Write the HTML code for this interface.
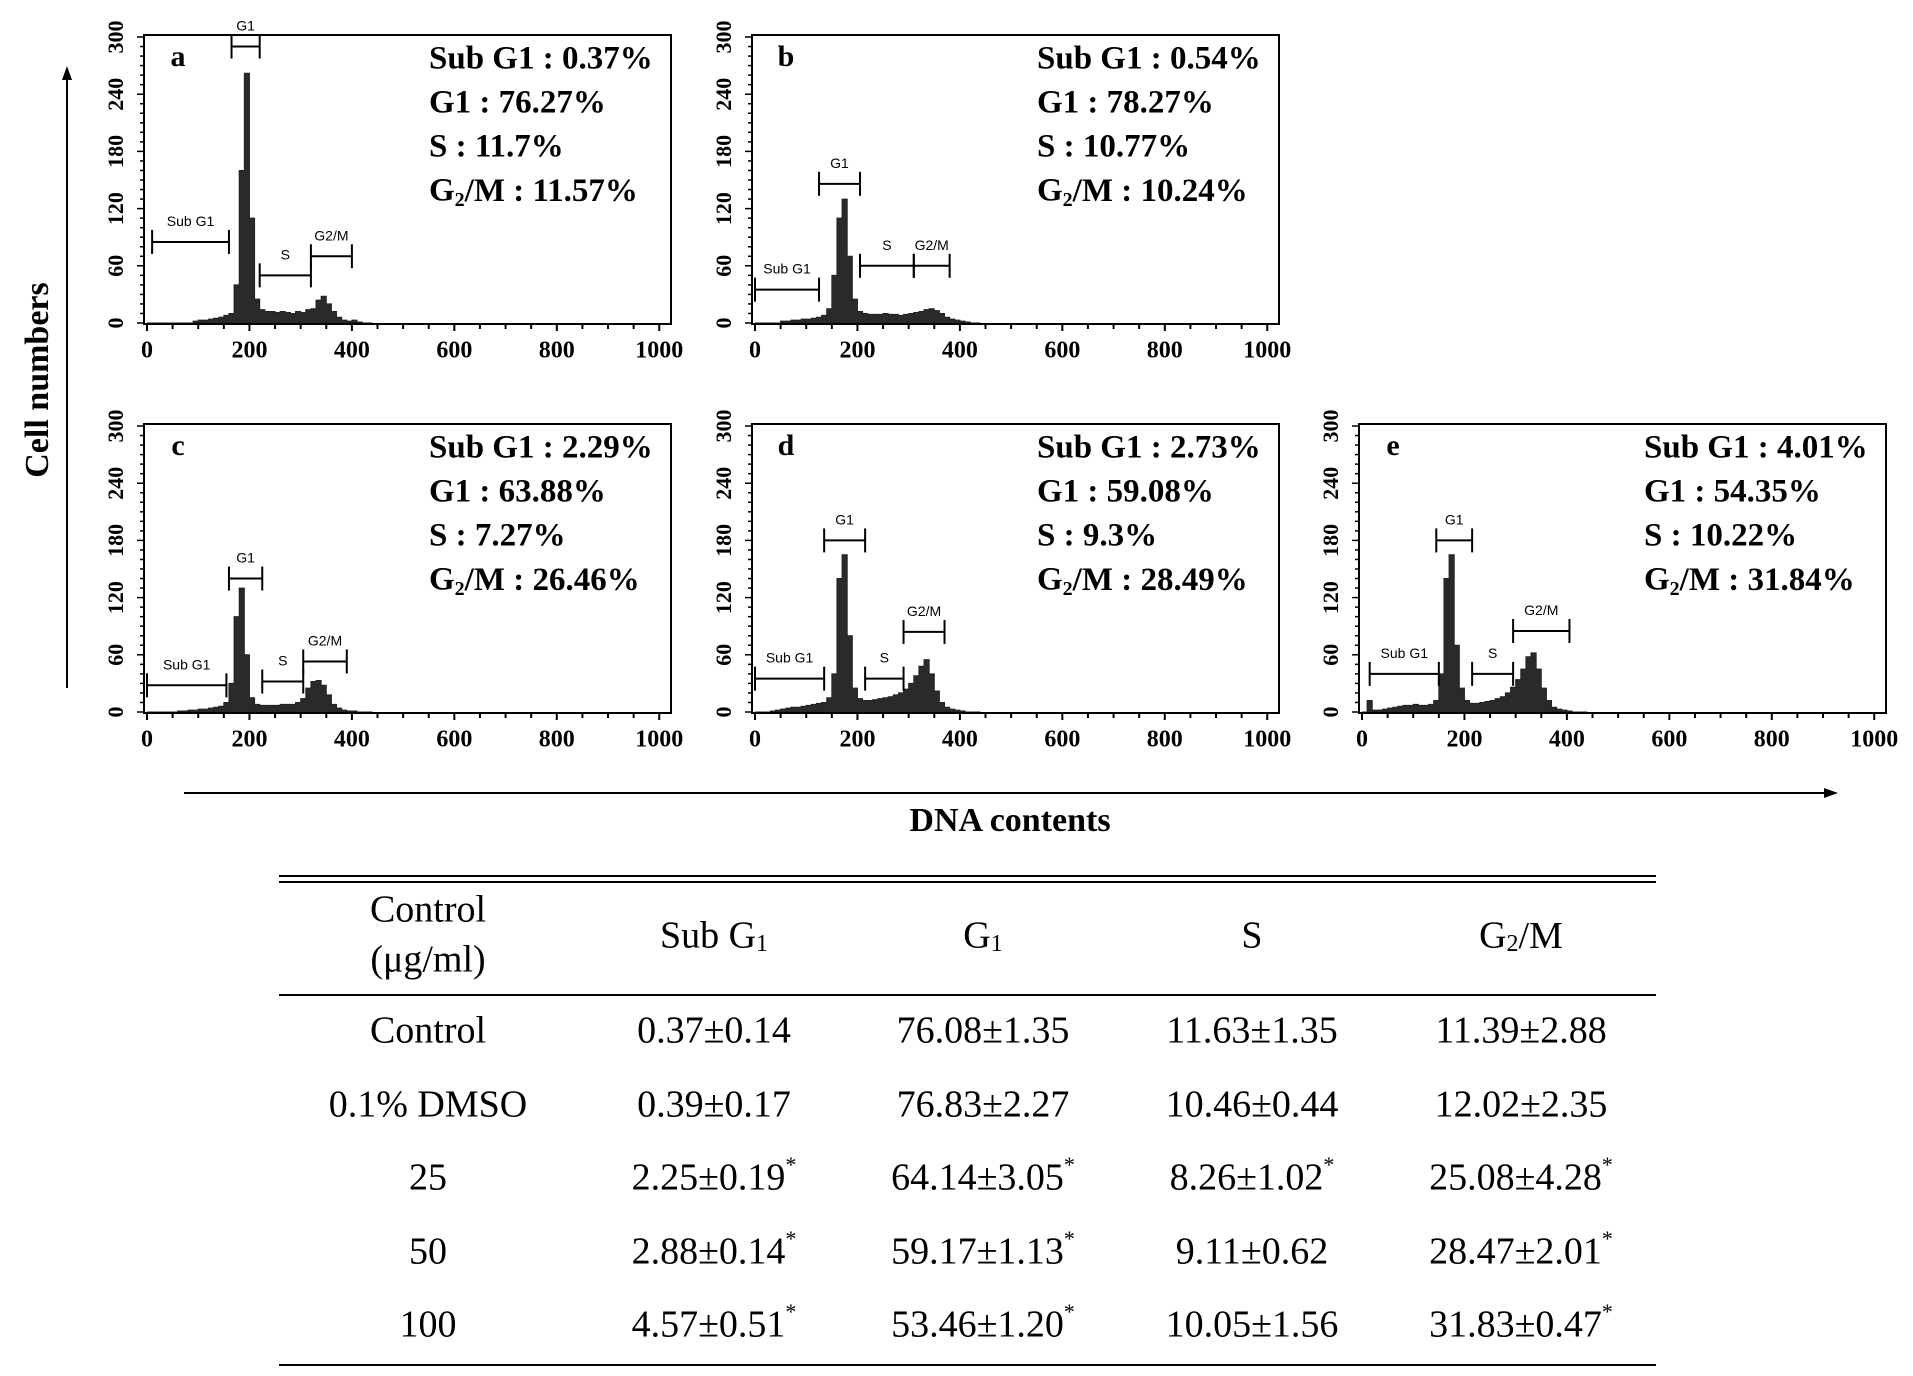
<!DOCTYPE html>
<html><head><meta charset="utf-8">
<style>
html,body{margin:0;padding:0;background:#fff;}
svg{display:block;font-family:"Liberation Serif",serif;}
</style></head>
<body>
<svg id="fig" width="1913" height="1376" viewBox="0 0 1913 1376">
  <g>
    <text x="40" y="380" transform="rotate(-90 40 380)" text-anchor="middle" dominant-baseline="middle" font-size="34" font-weight="bold">Cell numbers</text>
  </g>
  <line x1="67" y1="688" x2="67" y2="72" stroke="#000" stroke-width="2"/>
  <polygon points="67,66 62,80 72,80" fill="#000"/>
  <line x1="184" y1="793" x2="1828" y2="793" stroke="#000" stroke-width="2"/>
  <polygon points="1838,793 1824,788 1824,798" fill="#000"/>
  <text x="1010" y="823" text-anchor="middle" dominant-baseline="middle" font-size="34" font-weight="bold">DNA contents</text>
  <g id="panels"></g>
  <g id="table"></g>
</svg>
<script>
// ---- data ----
const binWidth = 10;
const histA = [0,0,0,0,0,0,0,0,0,2,3,3,4,5,6,8,10,40,160,262,110,25,14,12,12,11,12,11,10,12,11,14,15,24,28,20,12,6,3,2,3,1,0,0];
const histB = [0,0,0,0,0,2,2,3,3,4,4,5,6,8,15,50,110,130,70,25,12,10,9,9,9,10,9,9,8,9,10,11,12,14,15,13,10,6,4,3,2,1,0,0];
const histC = [0,0,0,0,0,0,1,1,2,2,3,3,4,5,6,10,30,100,130,60,15,8,7,7,7,7,8,8,8,10,14,25,32,33,28,18,8,4,2,1,1,0,0,0];
const histD = [0,0,0,1,2,3,4,5,5,6,7,8,9,10,15,40,140,165,80,25,14,12,12,13,14,15,16,18,20,24,30,38,48,55,40,22,10,5,3,2,1,0,0,0];
const histE = [0,12,2,2,3,4,5,6,7,7,8,7,7,8,12,40,140,165,70,25,12,9,9,10,11,12,14,16,20,26,34,45,58,62,45,25,12,5,3,2,1,0,0,0];
const panelLetters = ['a','b','c','d','e'];
const subG1 = ['0.37','0.54','2.29','2.73','4.01'];
const g1Pct = ['76.27','78.27','63.88','59.08','54.35'];
const sPct = ['11.7','10.77','7.27','9.3','10.22'];
const g2Pct = ['11.57','10.24','26.46','28.49','31.84'];
// gates: [x0,x1,y]
const gatesSub = [[10,160,85],[0,125,35],[0,155,28],[0,135,35],[15,150,40]];
const gatesG1 = [[165,220,290],[125,205,146],[160,225,140],[135,215,180],[145,215,180]];
const gatesS = [[220,320,50],[205,310,60],[225,305,32],[215,290,35],[215,295,40]];
const gatesG2 = [[320,400,70],[310,380,60],[305,390,53],[290,370,84],[295,405,85]];
const xTicks = [0,200,400,600,800,1000];
const yTicks = [0,60,120,180,240,300];
const rowLabels = ['Control','0.1%  DMSO','25','50','100'];
const colSub = ['0.37±0.14','0.39±0.17','2.25±0.19','2.88±0.14','4.57±0.51'];
const colG1 = ['76.08±1.35','76.83±2.27','64.14±3.05','59.17±1.13','53.46±1.20'];
const colS = ['11.63±1.35','10.46±0.44','8.26±1.02','9.11±0.62','10.05±1.56'];
const colG2 = ['11.39±2.88','12.02±2.35','25.08±4.28','28.47±2.01','31.83±0.47'];
const sigSub = [0,0,1,1,1], sigG1=[0,0,1,1,1], sigS=[0,0,1,0,0], sigG2=[0,0,1,1,1];

const hists = [histA,histB,histC,histD,histE];
const boxes = [[144,35],[752,35],[144,424],[752,424],[1359,424]];
const BW = 527, BH = 289;
const NS = 'http://www.w3.org/2000/svg';
function mk(tag, attrs, parent){const e=document.createElementNS(NS,tag);for(const k in attrs)e.setAttribute(k,attrs[k]);parent.appendChild(e);return e;}
const panels = document.getElementById('panels');

hists.forEach((h,i)=>{
  const [bx,by] = boxes[i];
  const xs = v => bx + 3 + v/1000*(BW*0.972);
  const ys = v => by + BH - 1 - v/300*(BH-3);
  const g = mk('g',{},panels);
  
  
  let d = 'M'+xs(0)+','+ys(0);
  h.forEach((v,k)=>{ d += ' L'+xs(k*binWidth)+','+ys(v)+' L'+xs((k+1)*binWidth)+','+ys(v); });
  d += ' L'+xs(h.length*binWidth)+','+ys(0)+' Z';
  const area = mk('path',{d:d,fill:'#2a2a2a',stroke:'#222','stroke-width':1},g);
  
  
  const box = mk('rect',{x:bx,y:by,width:BW,height:BH,fill:'none',stroke:'#000','stroke-width':2},g);
  
  
  for(let v=0; v<=1000; v+=50){
    mk('line',{x1:xs(v),y1:by+BH,x2:xs(v),y2:by+BH+(v%200==0?7:5),stroke:'#000','stroke-width':2},g);
  }
  xTicks.forEach(v=>{
    const t = mk('text',{x:xs(v),y:by+BH+28,'text-anchor':'middle','dominant-baseline':'middle','font-size':24,'font-weight':'bold'},g);
    t.textContent = v;
    
    
  });
  for(let v=0; v<=300; v+=10){
    mk('line',{x1:bx-(v%60==0?7:4),y1:ys(v),x2:bx,y2:ys(v),stroke:'#000','stroke-width':1.5},g);
  }
  yTicks.forEach(v=>{
    const x = bx-26, y = ys(v);
    const t = mk('text',{x:x,y:y,'text-anchor':'middle','dominant-baseline':'middle','font-size':22,'font-weight':'bold',transform:'rotate(-90 '+x+' '+y+')'},g);
    t.textContent = v;
    
    
  });
  const gates = [[gatesSub[i],'Sub G1'],[gatesG1[i],'G1'],[gatesS[i],'S'],[gatesG2[i],'G2/M']];
  gates.forEach(([gt,lab])=>{
    const x0=xs(gt[0]), x1=xs(gt[1]), y=ys(gt[2]);
    const gg = mk('g',{stroke:'#000','stroke-width':2},g);
    
    
    mk('line',{x1:x0,y1:y,x2:x1,y2:y},gg);
    mk('line',{x1:x0,y1:y-12,x2:x0,y2:y+12},gg);
    mk('line',{x1:x1,y1:y-12,x2:x1,y2:y+12},gg);
    const t = mk('text',{x:(x0+x1)/2,y:y-16,'text-anchor':'middle','font-size':14,'font-family':'Liberation Sans, sans-serif',stroke:'none',fill:'#000'},gg);
    t.textContent = lab;
  });
  const L = mk('text',{x:bx+34,y:by+24,'text-anchor':'middle','dominant-baseline':'middle','font-size':30,'font-weight':'bold'},g);
  L.textContent = panelLetters[i];
  
  
  const sx = bx+285;
  const lines = ['Sub G1 : '+subG1[i]+'%','G1 : '+g1Pct[i]+'%','S : '+sPct[i]+'%'];
  lines.forEach((ln,k)=>{
    const t = mk('text',{x:sx,y:by+26+k*44,'dominant-baseline':'middle','font-size':33,'font-weight':'bold'},g);
    t.textContent = ln;
    
    
  });
  const t4 = mk('text',{x:sx,y:by+158,'dominant-baseline':'middle','font-size':33,'font-weight':'bold'},g);
  t4.innerHTML = 'G<tspan font-size="20" dy="8">2</tspan><tspan dy="-8">/M : '+g2Pct[i]+'%</tspan>';
  
  
});

const tbl = document.getElementById('table');
const cx = [428,714,983,1252,1521];
mk('line',{x1:279,y1:876,x2:1656,y2:876,stroke:'#000','stroke-width':2},tbl);
mk('line',{x1:279,y1:882,x2:1656,y2:882,stroke:'#000','stroke-width':2},tbl);
mk('line',{x1:279,y1:995,x2:1656,y2:995,stroke:'#000','stroke-width':2},tbl);
mk('line',{x1:279,y1:1365,x2:1656,y2:1365,stroke:'#000','stroke-width':2},tbl);
function txt(x,y,html,name){const t=mk('text',{x:x,y:y,'text-anchor':'middle','dominant-baseline':'middle','font-size':38},tbl);t.innerHTML=html;return t;}
txt(cx[0],913,'Control','header-group-line1');
txt(cx[0],963,'(μg/ml)','header-group-line2');
txt(cx[1],939,'Sub  G<tspan font-size="24" dy="6">1</tspan>','header-sub-g1');
txt(cx[2],939,'G<tspan font-size="24" dy="6">1</tspan>','header-g1');
txt(cx[3],939,'S','header-s');
txt(cx[4],939,'G<tspan font-size="24" dy="6">2</tspan><tspan dy="-6">/M</tspan>','header-g2m');
const rowY = [1034,1108,1181,1255,1328];
const cols = [[colSub,sigSub],[colG1,sigG1],[colS,sigS],[colG2,sigG2]];
rowLabels.forEach((r,k)=>{
  txt(cx[0],rowY[k],r,'row-label');
  cols.forEach(([c,s],j)=>{
    txt(cx[j+1],rowY[k],c[k]+(s[k]?'<tspan font-size="22" dy="-14">*</tspan>':''),'table-cell');
  });
});
</script>
</body></html>
